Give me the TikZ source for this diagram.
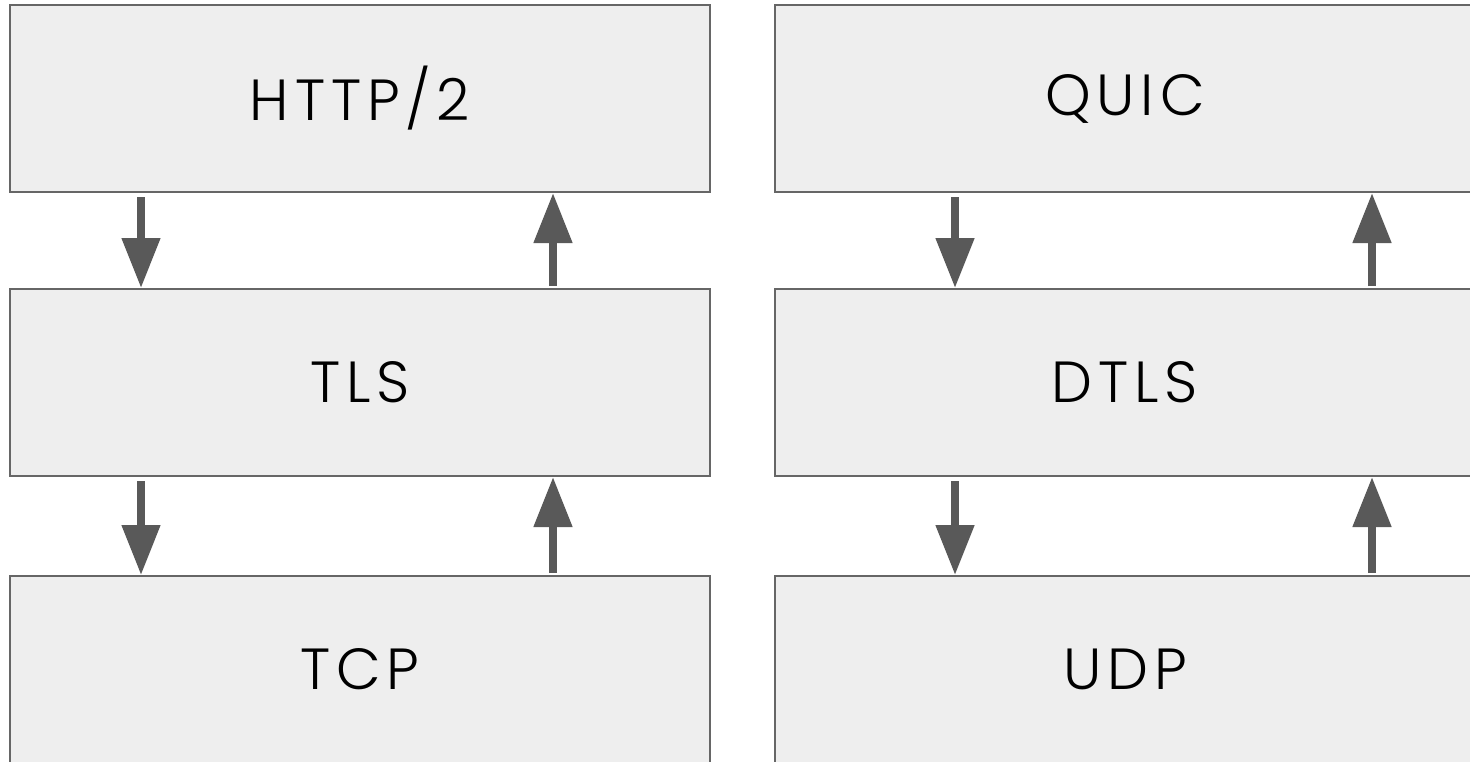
\documentclass[tikz,border=0pt]{standalone}
\usepackage{fontspec}
\newfontfamily\layerfont{Poppins}[UprightFont={* Light},LetterSpace=10]
\usetikzlibrary{arrows.meta}
\definecolor{layerfill}{HTML}{EEEEEE}
\definecolor{layerline}{HTML}{666666}
\definecolor{flowgray}{HTML}{595959}
\begin{document}
\begin{tikzpicture}[x=1pt,y=-1pt,
    layer/.style={draw=layerline,fill=layerfill,line width=2pt,minimum width=700pt,minimum height=187pt,inner sep=0pt,font=\layerfont\fontsize{58}{58}\selectfont},
    flow/.style={draw=flowgray,line width=8pt,-{Triangle[length=50pt,width=37pt]}}]
    \useasboundingbox (0,0) rectangle (1470,761);
    \clip (0,0) rectangle (1470,761);
    % TCP stack
    \node[layer] (http) at (360,98.5) {HTTP/2};
    \node[layer] (tls) at (360,382.5) {TLS};
    \node[layer] (tcp) at (360,669.5) {TCP};
    % UDP stack
    \node[layer] (quic) at (1125,98.5) {QUIC};
    \node[layer] (dtls) at (1125,382.5) {DTLS};
    \node[layer] (udp) at (1125,669.5) {UDP};
    \draw[flow] ([xshift=-219pt,yshift=-4pt]http.south) -- ([xshift=-219pt]tls.north);
    \draw[flow] ([xshift=193pt,yshift=2pt]tls.north) -- ([xshift=193pt]http.south);
    \draw[flow] ([xshift=-219pt,yshift=-4pt]tls.south) -- ([xshift=-219pt]tcp.north);
    \draw[flow] ([xshift=193pt,yshift=2pt]tcp.north) -- ([xshift=193pt]tls.south);
    \draw[flow] ([xshift=-170pt,yshift=-4pt]quic.south) -- ([xshift=-170pt]dtls.north);
    \draw[flow] ([xshift=247pt,yshift=2pt]dtls.north) -- ([xshift=247pt]quic.south);
    \draw[flow] ([xshift=-170pt,yshift=-4pt]dtls.south) -- ([xshift=-170pt]udp.north);
    \draw[flow] ([xshift=247pt,yshift=2pt]udp.north) -- ([xshift=247pt]dtls.south);
\end{tikzpicture}
\end{document}
